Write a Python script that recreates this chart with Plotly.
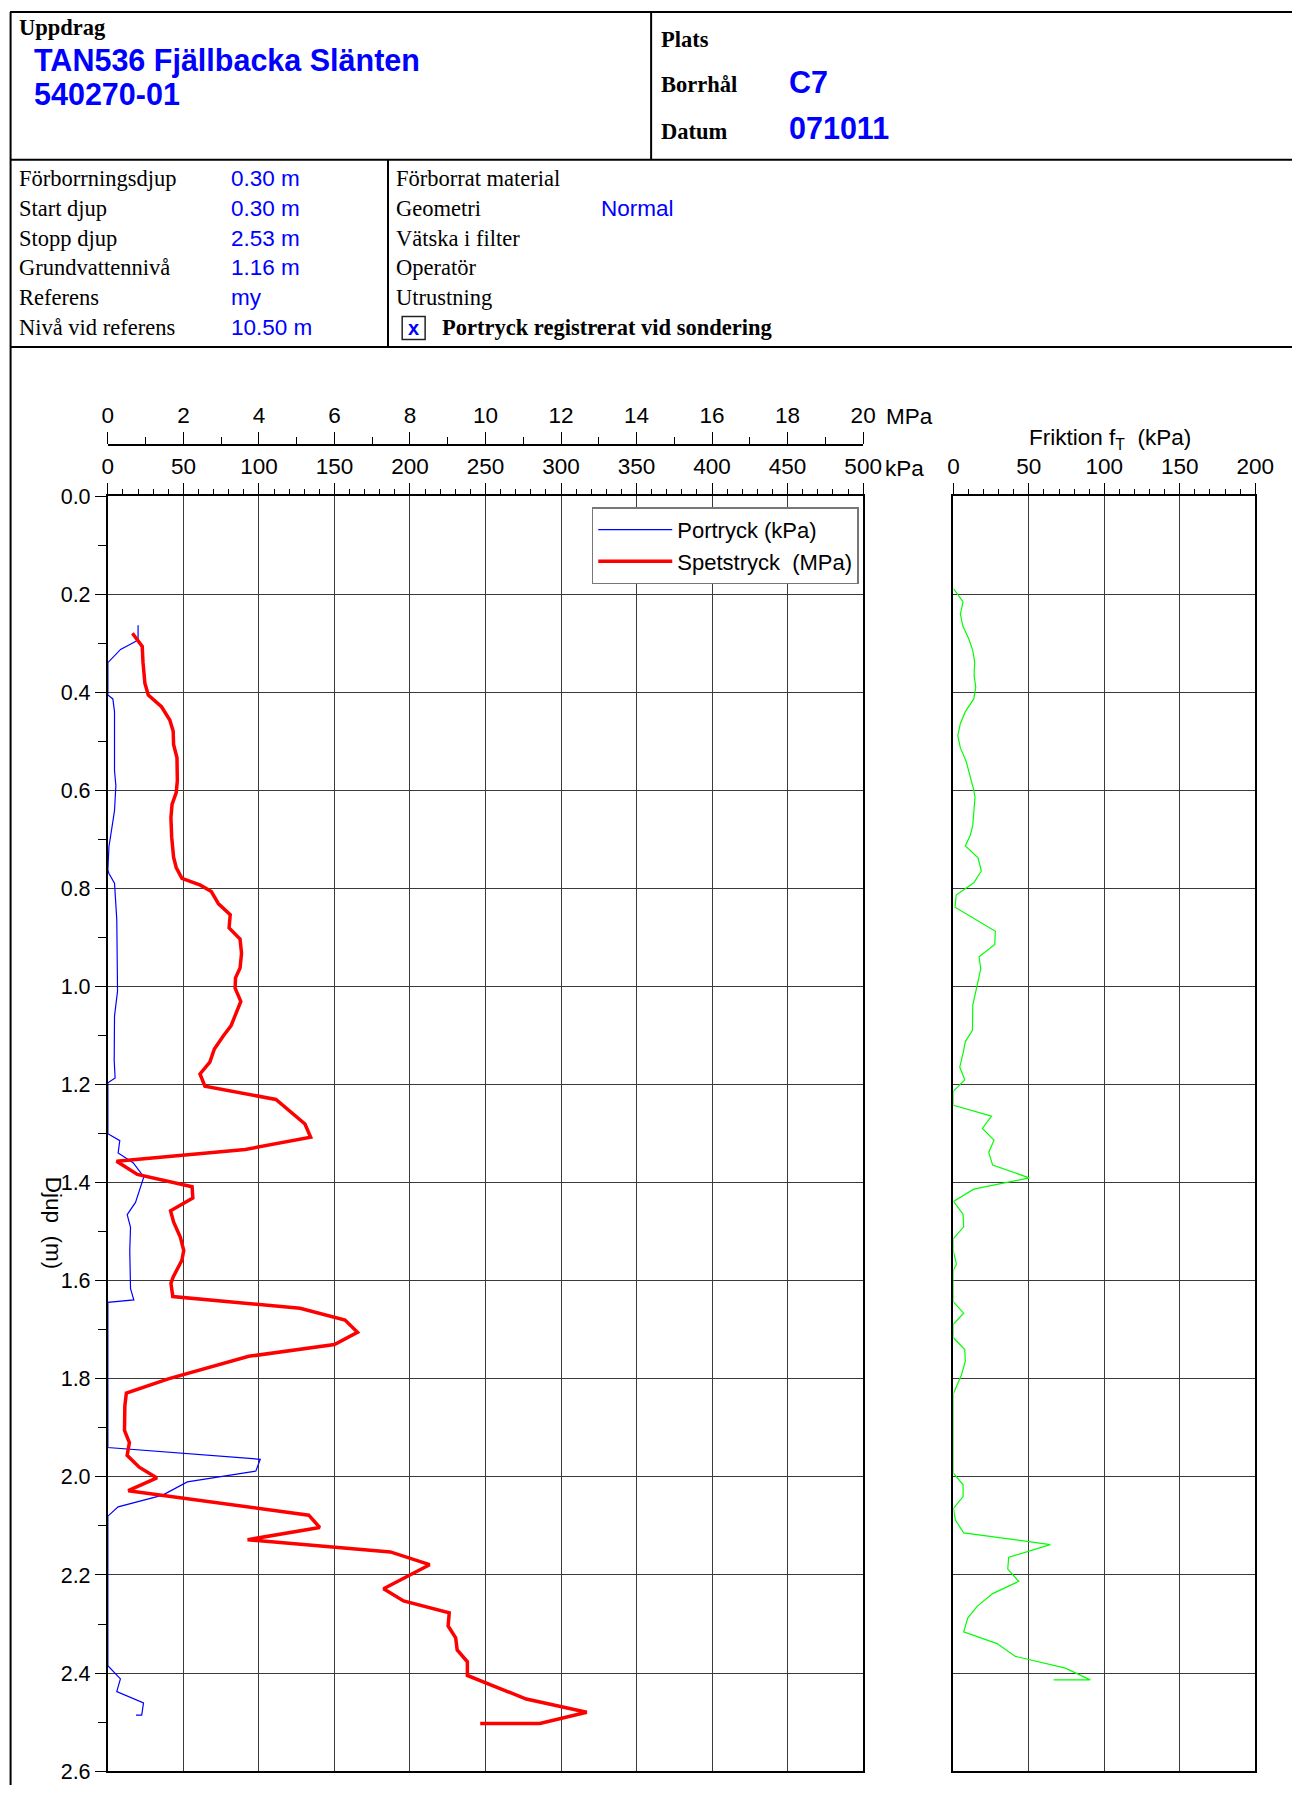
import plotly.graph_objects as go

# ---------------- data ----------------
tip_depth = [0.279, 0.306, 0.338, 0.381, 0.405, 0.429, 0.456, 0.479, 0.506, 0.533,
             0.580, 0.604, 0.628, 0.655, 0.695, 0.736, 0.757, 0.779, 0.793, 0.806,
             0.831, 0.853, 0.880, 0.903, 0.932, 0.962, 0.982, 1.003, 1.030, 1.057,
             1.080, 1.100, 1.127, 1.154, 1.178, 1.203, 1.230, 1.280, 1.307, 1.332,
             1.356, 1.383, 1.408, 1.431, 1.457, 1.480, 1.511, 1.538, 1.558, 1.592,
             1.605, 1.632, 1.656, 1.680, 1.705, 1.730, 1.754, 1.800, 1.829, 1.855,
             1.905, 1.930, 1.956, 1.980, 2.002, 2.028, 2.078, 2.103, 2.128, 2.153,
             2.179, 2.228, 2.253, 2.277, 2.304, 2.328, 2.353, 2.377, 2.405, 2.453,
             2.480, 2.503, 2.503]
tip_mpa = [0.65, 0.91, 0.93, 0.98, 1.07, 1.42, 1.64, 1.73, 1.74, 1.83,
           1.84, 1.81, 1.70, 1.67, 1.69, 1.74, 1.81, 1.96, 2.45, 2.74,
           2.93, 3.24, 3.21, 3.50, 3.54, 3.50, 3.38, 3.37, 3.52, 3.38,
           3.26, 3.06, 2.82, 2.70, 2.44, 2.57, 4.45, 5.22, 5.37, 3.64,
           0.23, 0.78, 2.23, 2.25, 1.66, 1.74, 1.92, 2.01, 1.96, 1.73,
           1.67, 1.72, 5.09, 6.28, 6.61, 6.00, 3.73, 1.60, 0.49, 0.45,
           0.44, 0.57, 0.51, 0.83, 1.30, 0.54, 5.32, 5.61, 3.70, 7.48,
           8.52, 7.30, 7.83, 9.04, 9.01, 9.21, 9.25, 9.52, 9.52, 11.08,
           12.68, 11.44, 9.86]

pore_depth = [0.263, 0.292, 0.296, 0.312, 0.339, 0.405, 0.413, 0.439, 0.560, 0.590,
              0.641, 0.681, 0.715, 0.762, 0.769, 0.789, 0.843, 0.863, 1.009, 1.060,
              1.151, 1.186, 1.196, 1.300, 1.314, 1.339, 1.359, 1.388, 1.440, 1.465,
              1.491, 1.538, 1.616, 1.639, 1.644, 1.940, 1.964, 1.988, 2.010, 2.037,
              2.061, 2.080, 2.385, 2.412, 2.438, 2.461, 2.486, 2.486]
pore_kpa = [20.0, 20.0, 18.3, 8.4, 0.0, 0.0, 3.3, 4.4, 4.4, 5.3,
            4.4, 2.4, 0.7, 0.0, 0.7, 4.4, 5.3, 5.9, 6.4, 4.4,
            4.2, 4.8, 0.0, 0.0, 7.9, 6.8, 16.7, 23.8, 18.3, 12.8,
            15.0, 14.5, 15.0, 17.2, 0.0, 0.0, 100.9, 98.0, 52.6, 36.3,
            6.8, 0.0, 0.0, 8.3, 5.9, 23.6, 22.4, 18.6]

fric_depth = [0.188, 0.215, 0.240, 0.264, 0.291, 0.314, 0.338, 0.365, 0.389, 0.413,
              0.439, 0.463, 0.488, 0.513, 0.540, 0.567, 0.599, 0.614, 0.651, 0.671,
              0.690, 0.713, 0.737, 0.764, 0.788, 0.813, 0.838, 0.887, 0.914, 0.939,
              0.964, 0.998, 1.038, 1.089, 1.112, 1.130, 1.164, 1.190, 1.213, 1.242,
              1.264, 1.289, 1.313, 1.338, 1.364, 1.390, 1.413, 1.438, 1.464, 1.490,
              1.514, 1.540, 1.566, 1.578, 1.643, 1.666, 1.688, 1.716, 1.740, 1.764,
              1.792, 1.830, 1.992, 2.016, 2.040, 2.064, 2.088, 2.114, 2.138, 2.164,
              2.188, 2.213, 2.238, 2.264, 2.288, 2.316, 2.340, 2.366, 2.390, 2.414,
              2.414]
fric_kpa = [0.0, 6.4, 4.6, 6.2, 10.2, 12.8, 14.1, 13.7, 14.8, 13.5,
            7.9, 4.6, 2.9, 4.6, 8.4, 10.8, 13.5, 14.3, 13.5, 12.8,
            11.3, 7.9, 16.3, 18.5, 13.5, 1.8, 1.1, 27.8, 27.4, 17.0,
            18.1, 15.9, 12.8, 12.6, 7.9, 6.8, 4.2, 7.5, 0.0, 0.0,
            25.2, 19.2, 26.9, 23.4, 26.0, 50.3, 13.5, 0.0, 6.4, 6.8,
            0.0, 0.0, 2.0, 0.0, 0.0, 6.8, 0.0, 0.0, 7.5, 7.9,
            5.3, 0.0, 0.0, 6.4, 6.4, 0.0, 1.3, 6.8, 64.2, 36.6,
            36.0, 43.3, 26.0, 15.7, 9.5, 6.8, 28.9, 41.1, 74.2, 90.7,
            66.4]

depth_ticks = [0.0, 0.2, 0.4, 0.6, 0.8, 1.0, 1.2, 1.4, 1.6, 1.8, 2.0, 2.2, 2.4, 2.6]

header_labels_left = ["Förborrningsdjup", "Start djup", "Stopp djup",
                      "Grundvattennivå", "Referens", "Nivå vid referens"]
header_values_left = ["0.30 m", "0.30 m", "2.53 m", "1.16 m", "my", "10.50 m"]
header_labels_right = ["Förborrat material", "Geometri", "Vätska i filter",
                       "Operatör", "Utrustning"]
header_values_right = ["", "Normal", "", "", ""]

# ---------------- layout helpers ----------------
W, H = 1292, 1798
# empirical mapping of figure pixels to the photographed page
SX, AX = 0.9829, 4.9
SY, AY = 0.9931, 11.4


def px(x):
    return ((x - AX) / SX) / W


def py(y):
    return 1 - ((y - AY) / SY) / H


SANS = "Liberation Sans, Arial, sans-serif"
SERIF = "Liberation Serif, Times New Roman, serif"
BLUE = "#0000ff"
FS = 22.5
TICKFONT = dict(family=SANS, size=FS, color="black")
YTICKFONT = dict(family=SANS, size=21.5, color="black")
GRID = "#3a3a3a"

fig = go.Figure()
fig.add_trace(go.Scatter(x=pore_kpa, y=pore_depth, mode="lines", name="Portryck (kPa)",
                         line=dict(color=BLUE, width=1.2), xaxis="x", yaxis="y"))
fig.add_trace(go.Scatter(x=tip_mpa, y=tip_depth, mode="lines", name="Spetstryck  (MPa)",
                         line=dict(color="#ff0000", width=3.5), xaxis="x3", yaxis="y"))
fig.add_trace(go.Scatter(x=fric_kpa, y=fric_depth, mode="lines", showlegend=False,
                         line=dict(color="#00ff00", width=1.2), xaxis="x2", yaxis="y2"))

ydom = [py(1783), py(500)]
common_x = dict(side="top", ticks="outside", ticklen=11, tickwidth=1.2, tickcolor="black",
                showline=True, linecolor="black", linewidth=2, mirror=True,
                showgrid=True, gridcolor=GRID, gridwidth=1, zeroline=False,
                tickfont=TICKFONT, fixedrange=True)
common_y = dict(range=[2.6, 0], autorange=False, tickmode="array", tickvals=depth_ticks,
                showline=True, linecolor="black", linewidth=2, mirror=True,
                showgrid=True, gridcolor=GRID, gridwidth=1, zeroline=False,
                fixedrange=True)

fig.update_layout(
    width=W, height=H, margin=dict(l=0, r=0, t=0, b=0),
    paper_bgcolor="white", plot_bgcolor="white",
    xaxis=dict(domain=[px(107), px(864)], range=[0, 500], anchor="y", dtick=50, tick0=0,
               minor=dict(dtick=10, ticks="outside", ticklen=5, tickcolor="black", showgrid=False),
               **common_x),
    xaxis3=dict(overlaying="x", side="top", anchor="free", position=py(448), range=[0, 20],
                dtick=2, tick0=0, ticks="outside", ticklen=12, tickwidth=1.2, tickcolor="black",
                minor=dict(dtick=1, ticks="outside", ticklen=7, tickcolor="black", showgrid=False),
                showline=True, linecolor="black", linewidth=1.5, showgrid=False, zeroline=False,
                tickfont=TICKFONT, fixedrange=True),
    yaxis=dict(domain=ydom, anchor="x", ticks="outside", ticklen=11, tickwidth=1.2,
               tickcolor="black", tickformat=".1f", tickfont=YTICKFONT,
               ticklabeloverflow="allow",
               minor=dict(dtick=0.1, tick0=0, ticks="outside", ticklen=8, tickcolor="black",
                          showgrid=False),
               **common_y),
    xaxis2=dict(domain=[px(954.5), px(1257)], range=[0, 200], anchor="y2", dtick=50, tick0=0,
                minor=dict(dtick=10, ticks="outside", ticklen=5, tickcolor="black", showgrid=False),
                **common_x),
    yaxis2=dict(domain=ydom, anchor="x2", showticklabels=False, ticks="", **common_y),
    legend=dict(x=px(592), y=py(511), xanchor="left", yanchor="top",
                bgcolor="white", bordercolor="#777777", borderwidth=1.5,
                font=dict(family=SANS, size=22, color="black"), itemwidth=74,
                tracegroupgap=0),
    showlegend=True,
    hovermode=False,
)

# ---------------- header frame ----------------
shapes = []


def hline(y, x0, x1, w=2):
    shapes.append(dict(type="line", xref="paper", yref="paper", x0=px(x0), x1=px(x1),
                       y0=py(y), y1=py(y), line=dict(color="black", width=w)))


def vline(x, y0, y1, w=2):
    shapes.append(dict(type="line", xref="paper", yref="paper", x0=px(x), x1=px(x),
                       y0=py(y0), y1=py(y1), line=dict(color="black", width=w)))


TOP = AY + 1.0
hline(TOP, 9, 1300)
hline(161, 9, 1300)
hline(349.5, 9, 1300)
vline(9.5, TOP, 1797)
vline(651.5, TOP, 161)
vline(387.8, 161, 349.5)
shapes.append(dict(type="rect", xref="paper", yref="paper", x0=px(402), x1=px(425),
                   y0=py(342), y1=py(319), line=dict(color="#222222", width=1.5)))
fig.update_layout(shapes=shapes)

ann = []


def text(x, y, s, family=SANS, size=FS, color="black", anchor="left", angle=0):
    ann.append(dict(xref="paper", yref="paper", x=px(x), y=py(y), text=s, showarrow=False,
                    xanchor=anchor, yanchor="middle", textangle=angle,
                    font=dict(family=family, size=size, color=color)))


text(16, 28, "<b>Uppdrag</b>", SERIF, FS)
text(31, 61, "<b>TAN536 Fjällbacka Slänten</b>", SANS, 30.5, BLUE)
text(31, 95, "<b>540270-01</b>", SANS, 30.5, BLUE)
text(659, 40, "<b>Plats</b>", SERIF, FS)
text(659, 85, "<b>Borrhål</b>", SERIF, FS)
text(659, 133, "<b>Datum</b>", SERIF, FS)
text(788, 83, "<b>C7</b>", SANS, 30.5, BLUE)
text(788, 129, "<b>071011</b>", SANS, 30.5, BLUE)

row_y = [180, 210, 240, 270, 300, 330]
for i, (lab, val) in enumerate(zip(header_labels_left, header_values_left)):
    text(16, row_y[i], lab, SERIF, FS)
    text(228, row_y[i], val, SANS, FS, BLUE)
for i, (lab, val) in enumerate(zip(header_labels_right, header_values_right)):
    text(394, row_y[i], lab, SERIF, FS)
    if val:
        text(599, row_y[i], val, SANS, FS, BLUE)
text(413.5, 330, "<b>x</b>", SANS, 20, BLUE, anchor="center")
text(440, 330, "<b>Portryck registrerat vid sondering</b>", SERIF, FS)

# axis unit labels and titles
text(885, 420, "MPa", SANS, FS)
text(884, 472, "kPa", SANS, FS)
text(1111, 442, "Friktion f<sub>T</sub>  (kPa)", SANS, FS, anchor="center")
text(52, 1232, "Djup  (m)", SANS, FS, anchor="center", angle=90)
fig.update_layout(annotations=ann)

fig.write_html("out.html")
